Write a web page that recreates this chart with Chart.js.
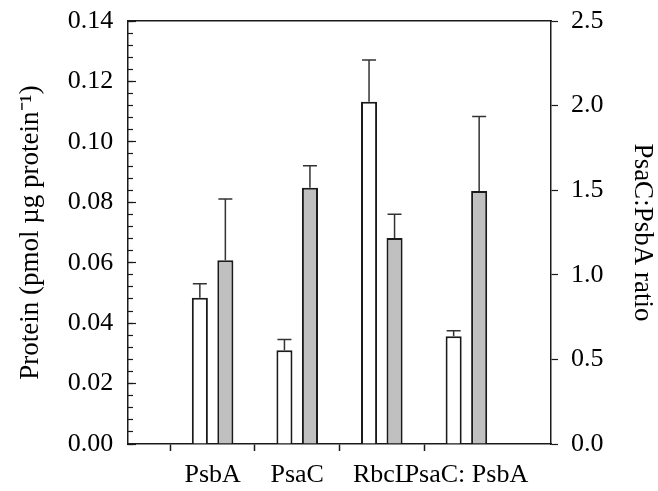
<!DOCTYPE html>
<html><head><meta charset="utf-8">
<script src="https://cdn.jsdelivr.net/npm/chart.js@4.4.0/dist/chart.umd.min.js"></script>
<style>html,body{margin:0;padding:0;background:#fff}</style>
</head><body>
<canvas id="c" width="658" height="491"></canvas>
<script>
// ---- data ----
const categories = ['PsbA', 'PsaC', 'RbcL', 'PsaC: PsbA'];
// protein content (pmol µg protein-1), left axis
const openProtein    = [0.0484, 0.0310, 0.1133];
const openProteinErr = [0.0046, 0.0036, 0.0138];
const greyProtein    = [0.0608, 0.0848, 0.0682];
const greyProteinErr = [0.0203, 0.0073, 0.0078];
// PsaC:PsbA ratio, right axis
const openRatio    = [0.637];
const openRatioErr = [0.033];
const greyRatio    = [1.495];
const greyRatioErr = [0.44];
// axis ranges / steps
const leftAxis  = {min: 0, max: 0.14, step: 0.02, minorStep: 0.004};
const rightAxis = {min: 0, max: 2.5, step: 0.5};

// ---- build library tables ----
const labels = [''].concat(categories, ['']);
const n = labels.length;
function proteinSeries(arr) { const out = new Array(n).fill(null); arr.forEach((v, i) => out[i + 1] = v); return out; }
function ratioSeries(arr) { const out = new Array(n).fill(null); out[4] = arr[0]; return out; }

const INK = '#1a1a1a';
const GREY = '#c0c0c0';
const FONT = '"Liberation Serif", "Times New Roman", serif';
Chart.defaults.font.family = FONT;
Chart.defaults.font.size = 26;
Chart.defaults.color = '#000';

const errorBars = {
  id: 'errorBars',
  afterDatasetsDraw(chart) {
    const ctx = chart.ctx;
    chart.data.datasets.forEach((ds, i) => {
      const meta = chart.getDatasetMeta(i);
      const ys = chart.scales[meta.yAxisID];
      meta.data.forEach((el, j) => {
        const v = ds.data[j], e = ds.errors[j];
        if (v == null || e == null) return;
        const yTop = ys.getPixelForValue(v + e);
        ctx.save();
        ctx.strokeStyle = '#333';
        ctx.lineWidth = 1.5;
        ctx.beginPath();
        ctx.moveTo(el.x, el.y);
        ctx.lineTo(el.x, yTop);
        ctx.moveTo(el.x - 7, yTop);
        ctx.lineTo(el.x + 7, yTop);
        ctx.stroke();
        ctx.restore();
      });
    });
  }
};

const barCommon = {
  borderColor: INK,
  borderWidth: 2,
  categoryPercentage: 0.603,
  barPercentage: 0.63,
  skipNull: true
};

function fixBox(prop, size) {
  return (s) => {
    s[prop] = size;
    s.paddingTop = 0; s.paddingBottom = 0; s.paddingLeft = 0; s.paddingRight = 0;
  };
}

new Chart(document.getElementById('c'), {
  type: 'bar',
  data: {
    labels: labels,
    datasets: [
      Object.assign({label: 'open', data: proteinSeries(openProtein), errors: proteinSeries(openProteinErr), backgroundColor: '#ffffff', yAxisID: 'y'}, barCommon),
      Object.assign({label: 'grey', data: proteinSeries(greyProtein), errors: proteinSeries(greyProteinErr), backgroundColor: GREY, yAxisID: 'y'}, barCommon),
      Object.assign({label: 'open ratio', data: ratioSeries(openRatio), errors: ratioSeries(openRatioErr), backgroundColor: '#ffffff', yAxisID: 'yR'}, barCommon),
      Object.assign({label: 'grey ratio', data: ratioSeries(greyRatio), errors: ratioSeries(greyRatioErr), backgroundColor: GREY, yAxisID: 'yR'}, barCommon)
    ]
  },
  options: {
    responsive: false,
    animation: false,
    devicePixelRatio: 1,
    layout: {padding: {top: 21, left: 0, right: 0, bottom: 0}},
    plugins: {legend: {display: false}, tooltip: {enabled: false}},
    scales: {
      x: {
        type: 'category',
        position: 'bottom',
        offset: false,
        grid: {
          drawOnChartArea: false,
          tickLength: 7,
          tickWidth: 1.5,
          tickColor: (c) => (c.index === 0 || c.index === n - 1) ? 'rgba(0,0,0,0)' : INK
        },
        border: {color: INK, width: 1.5},
        ticks: {autoSkip: false, maxRotation: 0, minRotation: 0, padding: 9, font: {size: 26}},
        afterFit: fixBox('height', 47)
      },
      xTop: {
        type: 'category',
        position: 'top',
        axis: 'x',
        offset: false,
        grid: {drawOnChartArea: false, drawTicks: false},
        border: {color: INK, width: 1.5},
        ticks: {display: false},
        afterFit: fixBox('height', 0)
      },
      y: {
        type: 'linear',
        position: 'left',
        weight: 10,
        min: leftAxis.min, max: leftAxis.max,
        grid: {drawOnChartArea: false, tickLength: -8, tickColor: INK, tickWidth: 1.2},
        border: {color: INK, width: 1.5},
        ticks: {stepSize: leftAxis.step, padding: 22.7, font: {size: 26}, callback: (v) => Number(v).toFixed(2)},
        title: {display: true, text: 'Protein (pmol µg protein⁻¹)', font: {size: 27}, padding: {top: 15, bottom: 0}},
        afterFit: fixBox('width', 128)
      },
      yMinor: {
        type: 'linear',
        position: 'left',
        weight: 0,
        min: leftAxis.min, max: leftAxis.max,
        grid: {drawOnChartArea: false, tickLength: -5, tickColor: INK, tickWidth: 1.2},
        border: {display: false},
        ticks: {display: false, stepSize: leftAxis.minorStep},
        afterFit: fixBox('width', 0)
      },
      yR: {
        type: 'linear',
        position: 'right',
        min: rightAxis.min, max: rightAxis.max,
        grid: {drawOnChartArea: false, tickLength: 7, tickColor: INK, tickWidth: 1.2},
        border: {color: INK, width: 1.5},
        ticks: {stepSize: rightAxis.step, padding: 13, font: {size: 26}, callback: (v) => Number(v).toFixed(1)},
        title: {display: true, text: 'PsaC:PsbA ratio', font: {size: 27}, padding: {top: 0, bottom: 0}},
        afterFit: fixBox('width', 107)
      }
    }
  },
  plugins: [errorBars]
});
</script>
</body></html>
